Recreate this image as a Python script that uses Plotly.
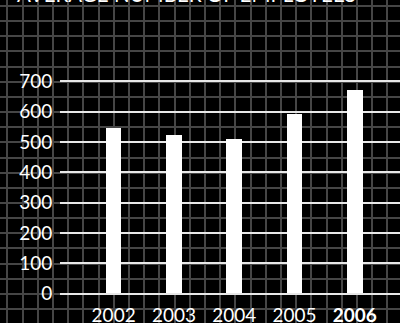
import plotly.graph_objects as go

years = ["2002", "2003", "2004", "2005", "2006"]
employees = [546, 523, 510, 592, 672]
year_labels = ["2002", "2003", "2004", "2005", "<b>2006</b>"]
y_ticks = [0, 100, 200, 300, 400, 500, 600, 700]
title_text = "AVERAGE NUMBER OF EMPLOYEES"

W, H = 400, 323
FONT = "Lato"

fig = go.Figure()
# background grid subplot (full page)
fig.add_trace(go.Scatter(x=[None], y=[None], xaxis="x", yaxis="y", showlegend=False, hoverinfo="skip"))
# main bars
fig.add_trace(go.Bar(x=list(range(len(years))), y=employees, xaxis="x2", yaxis="y2",
                     marker=dict(color="white", line=dict(width=0)), width=0.26,
                     showlegend=False))

x_left, x_right = 60, 400
y0_px, px_per_unit = 293.5, 0.3029
y_lo, y_hi = -10, 730

def ypx(v):
    return y0_px - v * px_per_unit

fig.update_layout(
    width=W, height=H,
    margin=dict(l=0, r=0, t=0, b=0, autoexpand=False),
    paper_bgcolor="black",
    plot_bgcolor="rgba(0,0,0,0)",
    hovermode=False,
    xaxis=dict(domain=[0, 1], range=[0, W], tick0=7.3, dtick=15.2, showgrid=True,
               gridcolor="#464646", gridwidth=1.6, showticklabels=False, zeroline=False,
               ticks="", fixedrange=True, automargin=False),
    yaxis=dict(domain=[0, 1], range=[H, 0], tick0=6.0, dtick=15.15, showgrid=True,
               gridcolor="#464646", gridwidth=1.6, showticklabels=False, zeroline=False,
               ticks="", fixedrange=True, automargin=False),
    xaxis2=dict(domain=[x_left / W, x_right / W], anchor="y2",
                range=[-0.89, 4.75], tickmode="array",
                tickvals=list(range(len(years))), ticktext=year_labels,
                showgrid=False, zeroline=False, showline=False,
                ticks="outside", ticklen=2, tickcolor="rgba(0,0,0,0)",
                tickfont=dict(family=FONT, size=19, color="white"), fixedrange=True,
                automargin=False),
    yaxis2=dict(domain=[1 - ypx(y_lo) / H, 1 - ypx(y_hi) / H], anchor="x2",
                range=[y_lo, y_hi], tickmode="array", tickvals=y_ticks,
                showgrid=True, gridcolor="#e8e8e8", gridwidth=1.5,
                zeroline=False, showline=False,
                ticks="outside", ticklen=3, tickcolor="rgba(0,0,0,0)",
                tickfont=dict(family=FONT, size=19, color="white"), fixedrange=True,
                automargin=False),
    bargap=0,
    annotations=[dict(text=title_text, xref="paper", yref="paper", x=15 / W, y=1 - 6 / H,
                      xanchor="left", yanchor="bottom", showarrow=False, yshift=-2,
                      font=dict(family=FONT, size=20.5, color="white"))],
)

fig.write_html("out.html", config={"displayModeBar": False},
               post_script="document.body.style.margin='0';document.body.style.background='black';")
